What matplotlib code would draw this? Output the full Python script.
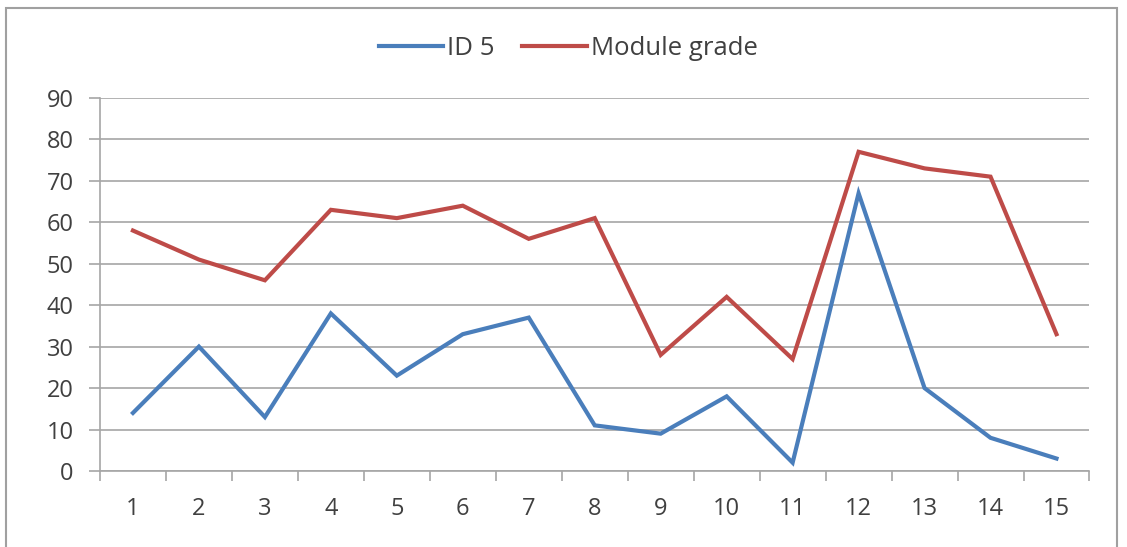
import numpy as np
import matplotlib.pyplot as plt
from matplotlib.patches import Rectangle

plt.rcParams['font.family'] = ['Open Sans', 'DejaVu Sans']

# 数据
categories = list(range(1, 16))
id5 = [14, 30, 13, 38, 23, 33, 37, 11, 9, 18, 2, 67, 20, 8, 3]
module_grade = [58, 51, 46, 63, 61, 64, 56, 61, 28, 42, 27, 77, 73, 71, 33]
y_ticks = list(range(0, 91, 10))

grid_c = '#a6a6a6'
text_c = '#404040'

fig = plt.figure(figsize=(11.27, 5.47), dpi=100)
ax = fig.add_axes([0.0887, 0.139, 0.878, 0.682])

ax.plot(categories, id5, color='#4a7ebb', lw=3, label='ID 5', solid_joinstyle='miter')
ax.plot(categories, module_grade, color='#be4b48', lw=3, label='Module grade', solid_joinstyle='miter')

ax.set_xlim(0.5, 15.5)
ax.set_ylim(0, 90)
ax.set_yticks(y_ticks)
ax.set_xticks(categories)
ax.set_xticks(np.arange(0.5, 16, 1), minor=True)
ax.tick_params(axis='x', which='major', length=0, pad=19, labelsize=17, labelcolor=text_c)
ax.tick_params(axis='x', which='minor', length=7, width=1.2, color=grid_c, direction='out')
ax.tick_params(axis='y', length=8, width=1.2, color=grid_c, labelsize=17, labelcolor=text_c, pad=11)

ax.grid(axis='y', color=grid_c, lw=1.2)
ax.set_axisbelow(True)
for s in ['top', 'right']:
    ax.spines[s].set_visible(False)
for s in ['left', 'bottom']:
    ax.spines[s].set_color(grid_c)
    ax.spines[s].set_linewidth(1.2)

leg = fig.legend(loc='center', bbox_to_anchor=(0.504, 0.912), ncol=2, frameon=False,
                 fontsize=18.5, handlelength=2.5, columnspacing=1.1, handletextpad=0.15)
for t in leg.get_texts():
    t.set_color(text_c)

# 外框
fig.patches.append(Rectangle((0.005, -0.01), 0.986, 0.995, transform=fig.transFigure,
                             fill=False, edgecolor='#a0a0a0', lw=1.5))

fig.savefig('out.png', dpi=100)
